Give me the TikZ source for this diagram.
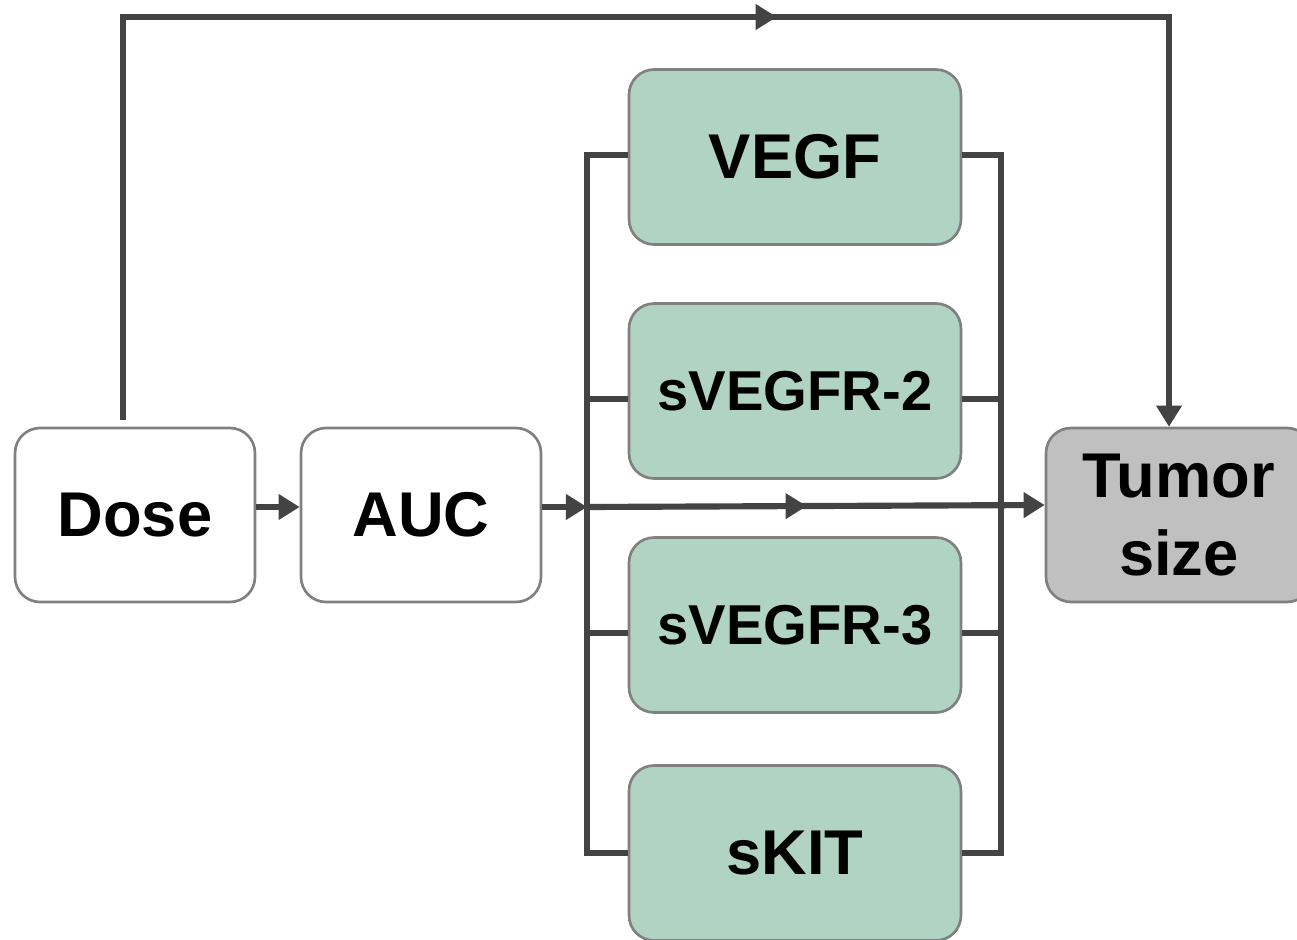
\documentclass[tikz,border=0pt]{standalone}
\usepackage{fontspec}
\setmainfont{Liberation Sans}
\usetikzlibrary{arrows.meta,decorations.markings}
\definecolor{flowLine}{RGB}{67,67,67}
\definecolor{boxEdge}{RGB}{128,128,128}
\definecolor{markerGreen}{RGB}{176,211,195}
\definecolor{tumorGray}{RGB}{192,192,192}

\tikzset{
  box/.style={draw=boxEdge, line width=1.5pt, rounded corners=0.5cm, fill=white,
    minimum width=4.8cm, minimum height=3.48cm, align=center,
    font=\fontsize{36}{44}\selectfont\bfseries},
  marker/.style={box, fill=markerGreen, minimum width=6.64cm, minimum height=3.5cm},
  wire/.style={draw=flowLine, line width=3.5pt},
  arr/.style={wire, -{Triangle[length=12pt,width=14pt]}},
  midarr/.style={postaction={decorate}, decoration={markings,
    mark=at position #1 with {\arrow{Triangle[length=12pt,width=14pt]}}}}
}

\begin{document}
\begin{tikzpicture}[x=0.02cm, y=-0.02cm]
    \useasboundingbox (0,0) rectangle (1297,939);

    % Main boxes
    \node[box] (dose) at (135,515) {Dose};
    \node[box] (auc) at (421,515) {AUC};
    \node[box, fill=tumorGray, minimum width=5.32cm] (tumor) at (1179,515) {Tumor\\size};

    % Biomarker boxes
    \node[marker] (vegf) at (795,157) {VEGF};
    \node[marker, font=\fontsize{32}{38}\selectfont\bfseries] (vr2) at (795,391) {sVEGFR-2};
    \node[marker, font=\fontsize{32}{38}\selectfont\bfseries] (vr3) at (795,625) {sVEGFR-3};
    \node[marker] (skit) at (795,853) {sKIT};

    % Bus lines
    \coordinate (busL) at (587,507);
    \coordinate (topL) at (123,17);
    \coordinate (topR) at (1169,17);
    \draw[wire] (vegf.west |- 0,155) -- (587,155) -- (587,853) -- (skit.west |- 0,853);
    \draw[wire] (vegf.east |- 0,155) -- (1001,155) -- (1001,853) -- (skit.east |- 0,853);
    \foreach \n/\y in {vr2/399, vr3/633} {
        \draw[wire] (587,\y) -- (\n.west |- 0,\y);
        \draw[wire] (\n.east |- 0,\y) -- (1001,\y);
    }

    % Arrows
    \draw[arr] (dose.east |- 0,507) -- (auc.west |- 0,507);
    \draw[arr] (auc.east |- 0,507) -- (busL);
    \draw[arr, midarr=0.48] (busL) -- (tumor.west |- 0,505);
    \draw[wire] (123,420) -- (topL) -- (topR) -- (1169,400);
    \draw[wire, midarr=0.625] (topL) -- (topR);
    \draw[arr] (topR) -- (tumor.north -| topR);

\end{tikzpicture}
\end{document}
